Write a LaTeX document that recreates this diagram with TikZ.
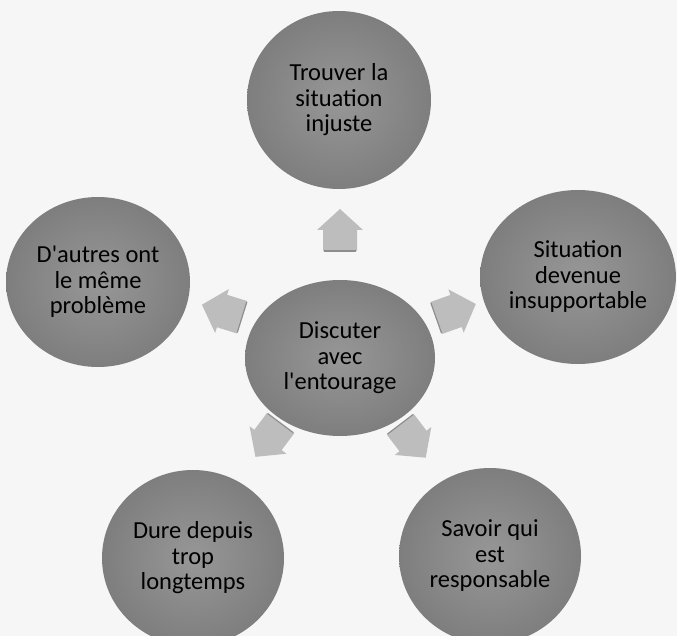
\documentclass[tikz,border=0pt]{standalone}
\usepackage{fontspec}
\setmainfont{Carlito}
\usetikzlibrary{shapes.geometric}
\definecolor{bg}{HTML}{F6F6F6}
\definecolor{discin}{HTML}{979797}
\definecolor{discout}{HTML}{7E7E7E}
\definecolor{arr}{HTML}{BDBDBD}
\definecolor{arrshade}{HTML}{8E8E8E}
\tikzset{
  disk/.style={ellipse, inner sep=0pt, minimum width=#1, align=center,
    inner color=discin, outer color=discout, text=black,
    font=\fontsize{24.5}{25.5}\selectfont},
  blockarrow/.pic={
    \fill[arr] (-21,-17) -- (0,-17) -- (0,-23) -- (21,0) -- (0,23) -- (0,17) -- (-21,17) -- cycle;
    \draw[arrshade, line width=1.2pt] (-21,-16) -- (-21,16);
  }
}
\begin{document}
\begin{tikzpicture}[x=1pt, y=-1pt]
\fill[bg] (0,0) rectangle (677,636);
\useasboundingbox (0,0) rectangle (677,636);

% outer nodes
\node[disk=184pt, minimum height=178pt] (top)   at (339,100) {Trouver la\\situation\\injuste};
\node[disk=184pt, minimum height=170pt] (left)  at (98,282)  {D\textquotesingle autres ont\\le même\\problème};
\node[disk=190pt, minimum height=174pt] (right) at (578,277) {Situation\\devenue\\insupportable};
\node[disk=182pt, minimum height=176pt] (bl)    at (193,558) {Dure depuis\\trop\\longtemps};
\node[disk=182pt, minimum height=176pt] (br)    at (490,556) {Savoir qui\\est\\responsable};
% centre
\node[disk=190pt, minimum height=156pt] (ctr)   at (340,358) {Discuter\\avec\\l\textquotesingle entourage};

% arrows pointing outward
\coordinate (aT)  at (340,230);
\coordinate (aL)  at (222,311);
\coordinate (aR)  at (456,311);
\coordinate (aBL) at (268,440);
\coordinate (aBR) at (413,441);
\pic[rotate=90]     at (aT)  {blockarrow};
\pic[rotate=162.6]  at (aL)  {blockarrow};
\pic[rotate=19.5]   at (aR)  {blockarrow};
\pic[rotate=-126.7] at (aBL) {blockarrow};
\pic[rotate=-52.7]  at (aBR) {blockarrow};
\end{tikzpicture}
\end{document}
